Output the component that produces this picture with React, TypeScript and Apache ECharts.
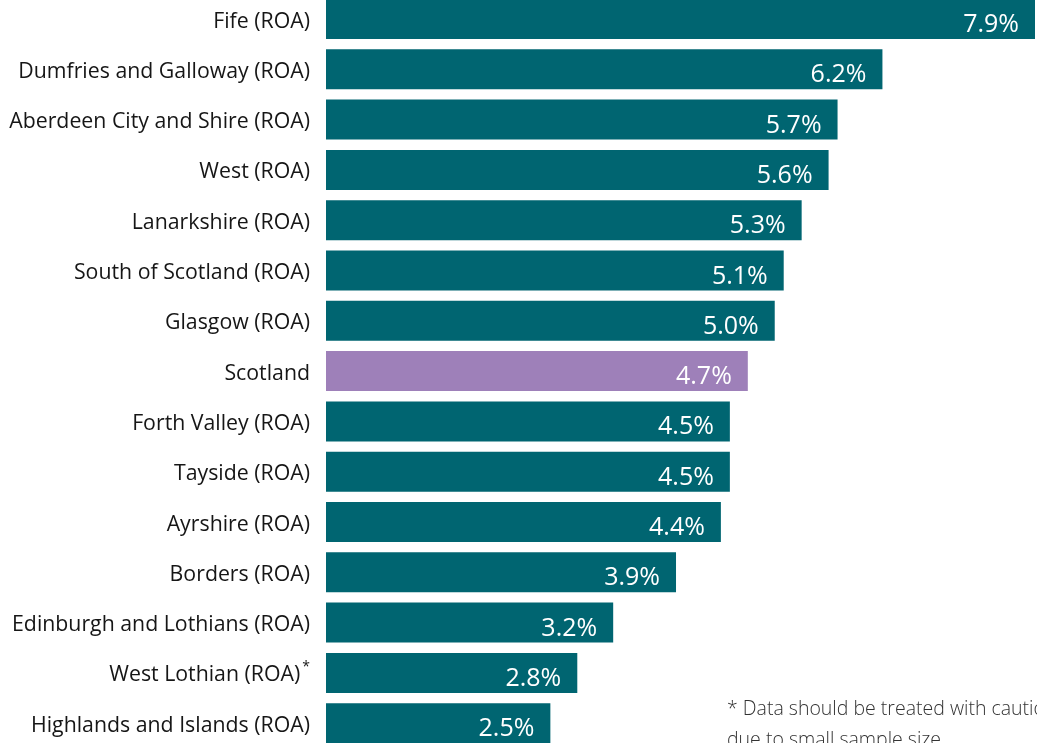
import React, { useEffect, useRef } from "react";
import * as echarts from "echarts";

const categories = [
  "Fife (ROA)",
  "Dumfries and Galloway (ROA)",
  "Aberdeen City and Shire (ROA)",
  "West (ROA)",
  "Lanarkshire (ROA)",
  "South of Scotland (ROA)",
  "Glasgow (ROA)",
  "Scotland",
  "Forth Valley (ROA)",
  "Tayside (ROA)",
  "Ayrshire (ROA)",
  "Borders (ROA)",
  "Edinburgh and Lothians (ROA)",
  "West Lothian (ROA)",
  "Highlands and Islands (ROA)",
];
const values = [7.9, 6.2, 5.7, 5.6, 5.3, 5.1, 5.0, 4.7, 4.5, 4.5, 4.4, 3.9, 3.2, 2.8, 2.5];
const flagged = ["West Lothian (ROA)"];
const highlight = "Scotland";
const footnoteLines = ["* Data should be treated with caution", "due to small sample size"];

const TEAL = "#006571";
const PURPLE = "#9e80b9";
const FONT = "'Open Sans', 'Noto Sans', sans-serif";

export default function App() {
  const ref = useRef<HTMLDivElement>(null);
  useEffect(() => {
    if (!ref.current) return;
    const chart = echarts.init(ref.current, null, { renderer: "svg" });
    const rowH = 50.3;
    chart.setOption({
      animation: false,
      grid: { left: 326, top: 0.85, width: 709, height: rowH * categories.length, containLabel: false },
      xAxis: { type: "value", min: 0, max: 7.9, show: false },
      yAxis: {
        type: "category",
        data: categories,
        inverse: true,
        axisLine: { show: false },
        axisTick: { show: false },
        axisLabel: {
          margin: 16,
          fontSize: 21.3,
          fontFamily: FONT,
          color: "#161616",
          formatter: (v: string) => (flagged.includes(v) ? `${v}{sup|*}` : v),
          rich: {
            sup: { fontSize: 14, fontFamily: FONT, color: "#161616", verticalAlign: "top", padding: [0, 0, 14, 2] },
          },
        },
      },
      series: [
        {
          type: "bar",
          barWidth: 40,
          data: values.map((v, i) => ({
            value: v,
            itemStyle: { color: categories[i] === highlight ? PURPLE : TEAL },
          })),
          label: {
            show: true,
            position: "insideRight",
            distance: 16,
            offset: [0, 3],
            color: "#ffffff",
            fontSize: 25,
            fontFamily: FONT,
            formatter: (p: any) => `${Number(p.value).toFixed(1)}%`,
          },
        },
      ],
      graphic: [
        {
          type: "text",
          left: 727,
          top: 699,
          style: {
            text: footnoteLines.join("\n"),
            fontSize: 19.5,
            lineHeight: 31,
            fontFamily: FONT,
            fontWeight: 300,
            fill: "#333333",
          },
        },
      ],
    });
    return () => chart.dispose();
  }, []);
  return <div ref={ref} style={{ width: 1037, height: 757, position: "fixed", left: 0, top: -7 }} />;
}
